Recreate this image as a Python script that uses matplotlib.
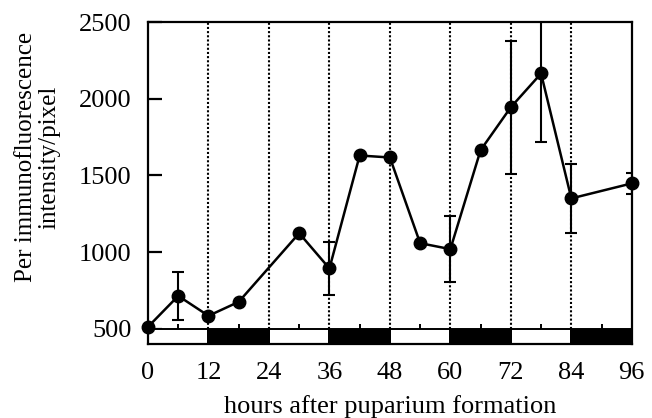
import matplotlib.pyplot as plt
from matplotlib.patches import Rectangle

hours = [0, 6, 12, 18, 30, 36, 42, 48, 54, 60, 66, 72, 78, 84, 96]
intensity = [512, 714, 584, 675, 1123, 893, 1630, 1617, 1058, 1019, 1665, 1945, 2165, 1350, 1448]
errors = [0, 155, 0, 0, 0, 175, 0, 0, 0, 215, 0, 435, 450, 225, 70]

grid_hours = [12, 24, 36, 48, 60, 72, 84]
mid_hours = [6, 18, 30, 42, 54, 66, 78, 90]
light_starts = [0, 24, 48, 72]
dark_starts = [12, 36, 60, 84]

plt.rcParams['font.family'] = ['Liberation Serif', 'DejaVu Serif']

fig = plt.figure(figsize=(6.52, 4.18), dpi=100)
ax = fig.add_axes([0.227, 0.177, 0.742, 0.770])

for h in grid_hours:
    ax.vlines(h, 500, 2500, colors='black', linestyles=(0, (1.0, 1.0)), linewidth=1.5, zorder=1)
for h in mid_hours:
    ax.vlines(h, 500, 530, colors='black', linewidth=1.4, zorder=1)

for s in light_starts:
    ax.add_patch(Rectangle((s, 400), 12, 100, facecolor='white', edgecolor='black', linewidth=1.4, zorder=2))
for s in dark_starts:
    ax.add_patch(Rectangle((s, 400), 12, 100, facecolor='black', edgecolor='black', linewidth=1.4, zorder=2))

ax.errorbar(hours, intensity, yerr=errors, fmt='none', ecolor='black', elinewidth=1.5, capsize=4, capthick=1.5, zorder=3)
ax.plot(hours, intensity, color='black', linewidth=1.8, marker='o', markersize=9, zorder=4, clip_on=False)

ax.set_xlim(0, 96)
ax.set_ylim(400, 2500)
ax.set_xticks([0, 12, 24, 36, 48, 60, 72, 84, 96])
ax.set_yticks([500, 1000, 1500, 2000, 2500])
ax.tick_params(axis='x', length=0, labelsize=19, pad=13)
ax.tick_params(axis='y', direction='in', length=10, width=1.6, labelsize=19, pad=12)
for sp in ax.spines.values():
    sp.set_linewidth(1.6)

ax.set_xlabel('hours after puparium formation', fontsize=19, labelpad=8)
ax.set_ylabel('Per immunofluorescence\nintensity/pixel', fontsize=18, linespacing=1.1)
ax.yaxis.set_label_coords(-0.18, 0.58)

fig.savefig('out.png', dpi=100)
